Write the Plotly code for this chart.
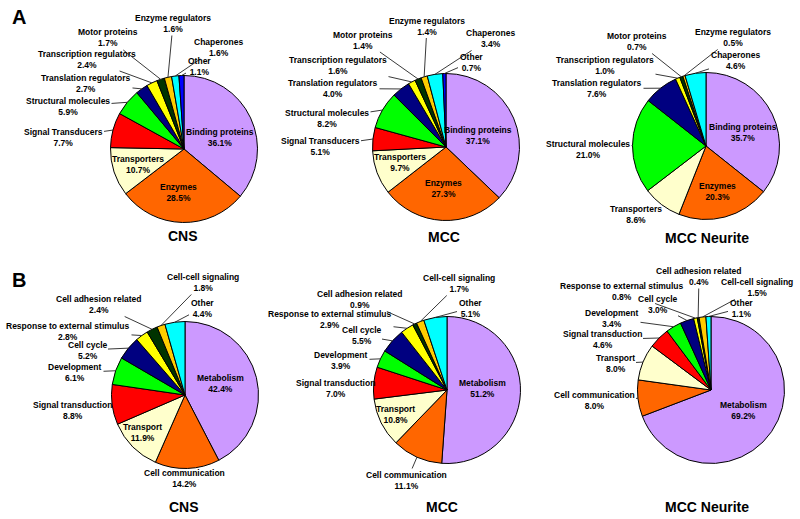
import math
import plotly.graph_objects as go

# ---------------- data ----------------
A_labels = ["Binding proteins", "Enzymes", "Transporters", "Signal Transducers",
            "Structural molecules", "Translation regulators", "Transcription regulators",
            "Motor proteins", "Enzyme regulators", "Chaperones", "Other"]
A_cns = [36.1, 28.5, 10.7, 7.7, 5.9, 2.7, 2.4, 1.7, 1.6, 1.6, 1.1]
A_mcc = [37.1, 27.3, 9.7, 5.1, 8.2, 4.0, 1.6, 1.4, 1.4, 3.4, 0.7]
A_neu_labels = ["Binding proteins", "Enzymes", "Transporters", "Structural molecules",
                "Translation regulators", "Transcription regulators", "Motor proteins",
                "Enzyme regulators", "Chaperones"]
A_neu = [35.7, 20.3, 8.6, 21.0, 7.6, 1.0, 0.7, 0.5, 4.6]

B_labels = ["Metabolism", "Cell communication", "Transport", "Signal transduction",
            "Development", "Cell cycle", "Response to external stimulus",
            "Cell adhesion related", "Cell-cell signaling", "Other"]
B_cns = [42.4, 14.2, 11.9, 8.8, 6.1, 5.2, 2.8, 2.4, 1.8, 4.4]
B_mcc = [51.2, 11.1, 10.8, 7.0, 3.9, 5.5, 2.9, 0.9, 1.7, 5.1]
B_neu = [69.2, 8.0, 8.0, 4.6, 3.4, 3.0, 0.8, 0.4, 1.5, 1.1]

titles = ["CNS", "MCC", "MCC Neurite"]

# ---------------- styles ----------------
A_colors = {"Binding proteins": "#CC99FF", "Enzymes": "#FF6600", "Transporters": "#FFFFCC",
            "Signal Transducers": "#FF0000", "Structural molecules": "#00FF00",
            "Translation regulators": "#000080", "Transcription regulators": "#FFFF00",
            "Motor proteins": "#003300", "Enzyme regulators": "#FFCC00",
            "Chaperones": "#00FFFF", "Other": "#0000FF"}
B_colors = {"Metabolism": "#CC99FF", "Cell communication": "#FF6600", "Transport": "#FFFFCC",
            "Signal transduction": "#FF0000", "Development": "#00FF00", "Cell cycle": "#000080",
            "Response to external stimulus": "#FFFF00", "Cell adhesion related": "#003300",
            "Cell-cell signaling": "#FFCC00", "Other": "#00FFFF"}

W, H = 800, 519
R = 73.5
FONT = "Liberation Sans, Arial, sans-serif"

# layout positions (pixels): label centres, inside flags
A_label_pos = [
    {"Binding proteins": (220, 137.5, True), "Enzymes": (178, 192, True), "Transporters": (138, 164.5, True),
     "Signal Transducers": (63, 137.5, False), "Structural molecules": (68, 106.5, False),
     "Translation regulators": (86, 83.5, False), "Transcription regulators": (87, 59, False),
     "Motor proteins": (108, 38, False), "Enzyme regulators": (173, 23.5, False),
     "Chaperones": (218, 47, False), "Other": (199, 66, False)},
    {"Binding proteins": (478, 135.5, True), "Enzymes": (443, 188.5, True), "Transporters": (400, 162.5, True),
     "Signal Transducers": (320, 146.5, False), "Structural molecules": (327, 118.5, False),
     "Translation regulators": (333, 88.5, False), "Transcription regulators": (338, 65, False),
     "Motor proteins": (363, 40, False), "Enzyme regulators": (427, 26, False),
     "Chaperones": (490, 38.5, False), "Other": (471, 62, False)},
    {"Binding proteins": (743, 132.5, True), "Enzymes": (717, 191.5, True), "Transporters": (636, 214.5, False),
     "Structural molecules": (588, 149.5, False), "Translation regulators": (597, 88.5, False),
     "Transcription regulators": (605, 65, False), "Motor proteins": (637, 41.5, False),
     "Enzyme regulators": (733, 37.5, False), "Chaperones": (735, 60.5, False)},
]
B_label_pos = [
    {"Metabolism": (220, 383.5, True), "Cell communication": (184, 478.5, False), "Transport": (142, 432, True),
     "Signal transduction": (72, 410.5, False), "Development": (75, 372.5, False),
     "Cell cycle": (87, 350, False), "Response to external stimulus": (68, 331, False),
     "Cell adhesion related": (99, 304.5, False), "Cell-cell signaling": (203, 282.5, False),
     "Other": (202, 308, False)},
    {"Metabolism": (482, 388, True), "Cell communication": (407, 480.5, False), "Transport": (395, 414.5, True),
     "Signal transduction": (335, 388.5, False), "Development": (341, 360.5, False),
     "Cell cycle": (361, 335.5, False), "Response to external stimulus": (330, 319.5, False),
     "Cell adhesion related": (360, 299.5, False), "Cell-cell signaling": (459, 283.5, False),
     "Other": (470, 308, False)},
    {"Metabolism": (743, 410.5, True), "Cell communication": (594, 400.5, False), "Transport": (615, 363.5, False),
     "Signal transduction": (602, 339.5, False), "Development": (612, 318.5, False),
     "Cell cycle": (657, 304.5, False), "Response to external stimulus": (622, 291.5, False),
     "Cell adhesion related": (699, 276.5, False), "Cell-cell signaling": (757, 287.5, False),
     "Other": (741, 308, False)},
]
centers = [[(184, 149), (446, 147), (706, 146)], [(185, 395), (447, 390), (711, 390)]]
title_pos = [[(183, 236), (444, 237), (707, 238)], [(184, 507), (442, 507), (707, 507)]]

charts = [
    [(A_labels, A_cns, A_colors), (A_labels, A_mcc, A_colors), (A_neu_labels, A_neu, A_colors)],
    [(B_labels, B_cns, B_colors), (B_labels, B_mcc, B_colors), (B_labels, B_neu, B_colors)],
]
label_pos = [A_label_pos, B_label_pos]

fig = go.Figure()
annotations = []


def px(x):
    return x / W


def py(y):
    return 1 - y / H


for row in range(2):
    for col in range(3):
        labels, values, cmap = charts[row][col]
        cx, cy = centers[row][col]
        fig.add_trace(go.Pie(
            labels=labels, values=values, sort=False, direction="clockwise", rotation=0,
            marker=dict(colors=[cmap[l] for l in labels], line=dict(color="black", width=1)),
            textinfo="none", hoverinfo="label+percent", showlegend=False,
            domain=dict(x=[px(cx - R), px(cx + R)], y=[py(cy + R), py(cy - R)]),
        ))
        total = sum(values)
        cum = 0.0
        for lab, v in zip(labels, values):
            mid = 2 * math.pi * (cum + v / 2) / total
            cum += v
            lx, ly, inside = label_pos[row][col][lab]
            text = f"<b>{lab}<br>{v:.1f}%</b>"
            if inside:
                annotations.append(dict(x=px(lx), y=py(ly), xref="paper", yref="paper", text=text,
                                        showarrow=False, xanchor="center", yanchor="middle",
                                        font=dict(family=FONT, size=8.5, color="black")))
            else:
                ex = cx + R * math.sin(mid)
                ey = cy - R * math.cos(mid)
                annotations.append(dict(x=px(ex), y=py(ey), xref="paper", yref="paper", text=text,
                                        showarrow=True, arrowhead=0, arrowwidth=0.9, arrowcolor="#222222",
                                        ax=lx - ex, ay=ly - ey, standoff=0,
                                        font=dict(family=FONT, size=8.5, color="black")))
        tx, ty = title_pos[row][col]
        annotations.append(dict(x=px(tx), y=py(ty), xref="paper", yref="paper",
                                text=f"<b>{titles[col]}</b>", showarrow=False,
                                xanchor="center", yanchor="middle",
                                font=dict(family=FONT, size=14, color="black")))

annotations.append(dict(x=px(19), y=py(17), xref="paper", yref="paper", text="<b>A</b>",
                        showarrow=False, xanchor="center", yanchor="middle",
                        font=dict(family=FONT, size=20, color="black")))
annotations.append(dict(x=px(19), y=py(280), xref="paper", yref="paper", text="<b>B</b>",
                        showarrow=False, xanchor="center", yanchor="middle",
                        font=dict(family=FONT, size=20, color="black")))

fig.update_layout(width=W, height=H, margin=dict(l=0, r=0, t=0, b=0),
                  paper_bgcolor="white", plot_bgcolor="white", annotations=annotations)
fig.write_html("out.html", config={"displayModeBar": False},
               post_script="document.body.style.margin='0px';document.body.style.overflow='hidden';")
